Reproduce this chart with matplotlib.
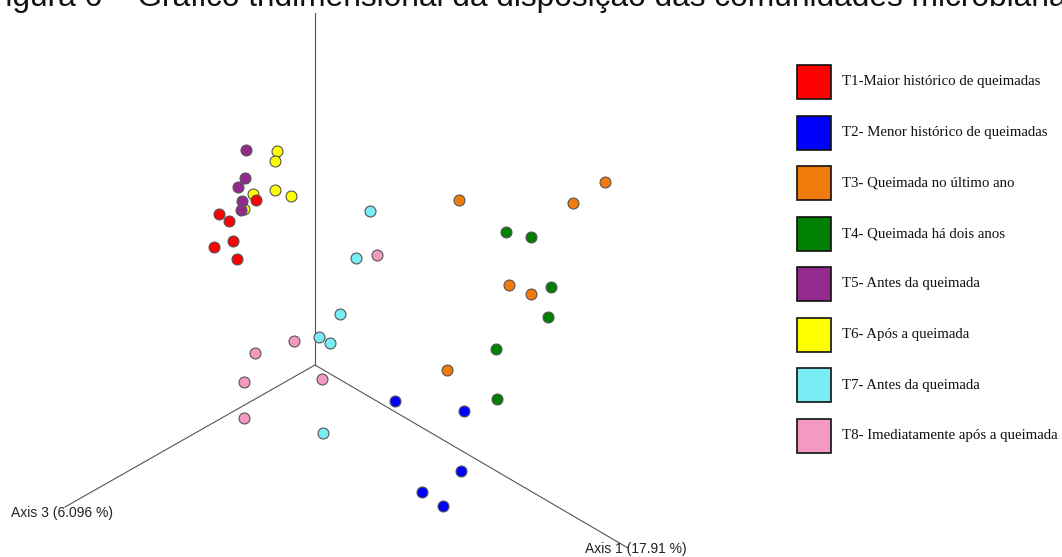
import matplotlib
matplotlib.use('Agg')
from matplotlib import pyplot as plt
from matplotlib.patches import Rectangle

# Projected PCoA coordinates (screen plane)
t1_x = [256, 219, 229, 233, 214, 237]
t1_y = [200, 214, 221, 241, 247, 259]
t2_x = [395, 464, 461, 422, 443]
t2_y = [401, 411, 471, 492, 506]
t3_x = [459, 605, 573, 509, 531, 447]
t3_y = [200, 182, 203, 285, 294, 370]
t4_x = [506, 531, 551, 548, 496, 497]
t4_y = [232, 237, 287, 317, 349, 399]
t5_x = [246, 245, 238, 242, 241]
t5_y = [150, 178, 187, 201, 210]
t6_x = [277, 275, 253, 275, 291, 244]
t6_y = [151, 161, 194, 190, 196, 209]
t7_x = [370, 356, 340, 319, 330, 323]
t7_y = [211, 258, 314, 337, 343, 433]
t8_x = [377, 294, 255, 244, 322, 244]
t8_y = [255, 341, 353, 382, 379, 418]

labels = ['T1-Maior histórico de queimadas',
          'T2- Menor histórico de queimadas',
          'T3- Queimada no último ano',
          'T4- Queimada há dois anos',
          'T5- Antes da queimada',
          'T6- Após a queimada',
          'T7- Antes da queimada',
          'T8- Imediatamente após a queimada']
colors = ['#ff0000', '#0000ff', '#f07a0a', '#008000',
          '#922b8c', '#ffff00', '#78ecf2', '#f49ac2']

groups = [(t1_x, t1_y), (t2_x, t2_y), (t3_x, t3_y), (t4_x, t4_y),
          (t5_x, t5_y), (t6_x, t6_y), (t7_x, t7_y), (t8_x, t8_y)]

title = 'Figura 6 – Gráfico tridimensional da disposição das comunidades microbianas'

W, H = 1062, 557
fig = plt.figure(figsize=(W / 100, H / 100), dpi=100, facecolor='white')
ax = fig.add_axes([0, 0, 1, 1])
ax.set_xlim(0, W)
ax.set_ylim(H, 0)
ax.axis('off')

# axes of the 3D view
origin = (315, 365)
for end in [(315, 13), (65, 507), (628, 548)]:
    ax.plot([origin[0], end[0]], [origin[1], end[1]], color='#555555',
            lw=0.8, zorder=1)

ax.text(11, 517, 'Axis 3 (6.096 %)', fontsize=10, family='Liberation Sans',
        color='#222222', va='baseline', zorder=3)
ax.text(585, 553, 'Axis 1 (17.91 %)', fontsize=10, family='Liberation Sans',
        color='#222222', va='baseline', zorder=3)

# draw order so overlaps look like the reference
order = [5, 4, 0, 1, 2, 3, 6, 7]
for i in order:
    gx, gy = groups[i]
    ax.scatter(gx, gy, s=62, color=colors[i], edgecolor='#555555',
               linewidth=0.8, zorder=2)

# legend
for i, lab in enumerate(labels):
    cy = 82 + i * 50.5
    ax.add_patch(Rectangle((797, cy - 17), 34, 34, facecolor=colors[i],
                           edgecolor='#111111', lw=1.2, zorder=2))
    ax.text(842, cy, lab, fontsize=10.7, family='Liberation Serif',
            color='#111111', va='center', ha='left')

# title, clipped at the top edge as in the screenshot
ax.text(-14, 6, title, fontsize=22.8, family='Liberation Sans',
        color='#111111', va='baseline', ha='left', clip_on=False)

fig.savefig('out.png', dpi=100, facecolor='white')
